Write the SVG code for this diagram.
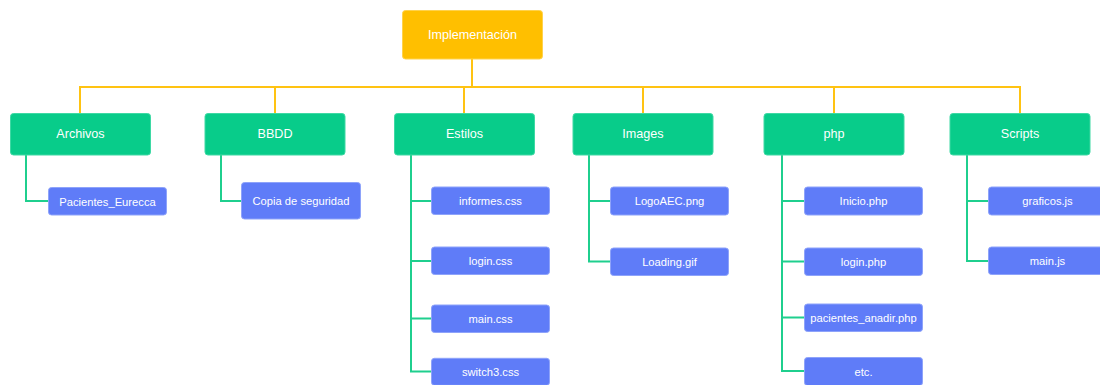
<svg xmlns="http://www.w3.org/2000/svg" width="1100" height="385" viewBox="0 0 1100 385">
  <style>
    .root { fill: #FFBF00; stroke: #FFD24D; stroke-width: 1; }
    .folder { fill: #08CC8A; stroke: #3ED9A4; stroke-width: 1; }
    .file { fill: #5F7CF8; stroke: #8EA3FA; stroke-width: 1; }
    .label { fill: #FFFFFF; font-family: "Liberation Sans", Arial, sans-serif; text-anchor: middle; dominant-baseline: central; }
    .big { font-size: 12.6px; }
    .small { font-size: 11.2px; }
    .bus { fill: none; stroke: #FFC312; stroke-width: 2; }
    .branch { fill: none; stroke: #1FCF8E; stroke-width: 2; }
  </style>

  <!-- connectors -->
  <g id="connectors">
    <!-- root to folders -->
    <path class="bus" d="M472 59 V87"/>
    <path class="bus" d="M80 113 V87 H1020 V113"/>
    <path class="bus" d="M275 87 V113 M464 87 V113 M643 87 V113 M834 87 V113"/>
    <!-- Archivos -->
    <path class="branch" d="M26 155 V201 H48"/>
    <!-- BBDD -->
    <path class="branch" d="M221 155 V201 H241"/>
    <!-- Estilos -->
    <path class="branch" d="M411 155 V371.5 H431 M411 201 H431 M411 261 H431 M411 318.5 H431"/>
    <!-- Images -->
    <path class="branch" d="M589 155 V261.5 H610 M589 201 H610"/>
    <!-- php -->
    <path class="branch" d="M782 155 V371 H804 M782 201 H804 M782 261.5 H804 M782 317.5 H804"/>
    <!-- Scripts -->
    <path class="branch" d="M967 155 V261 H988 M967 201 H988"/>
  </g>

  <!-- root -->
  <g id="implementacion">
    <rect class="root" x="402.5" y="10.5" width="140" height="48.5" rx="3"/>
    <text class="label big" x="472.5" y="35">Implementación</text>
  </g>

  <!-- folders -->
  <g id="archivos">
    <rect class="folder" x="10.5" y="113.5" width="140" height="41.5" rx="3"/>
    <text class="label big" x="80.5" y="134">Archivos</text>
  </g>
  <g id="bbdd">
    <rect class="folder" x="205" y="113.5" width="140" height="41.5" rx="3"/>
    <text class="label big" x="275" y="134">BBDD</text>
  </g>
  <g id="estilos">
    <rect class="folder" x="394.5" y="113.5" width="140" height="41.5" rx="3"/>
    <text class="label big" x="464.5" y="134">Estilos</text>
  </g>
  <g id="images">
    <rect class="folder" x="573" y="113.5" width="140" height="41.5" rx="3"/>
    <text class="label big" x="643" y="134">Images</text>
  </g>
  <g id="php">
    <rect class="folder" x="764" y="113.5" width="140" height="41.5" rx="3"/>
    <text class="label big" x="834" y="134">php</text>
  </g>
  <g id="scripts">
    <rect class="folder" x="950" y="113.5" width="140" height="41.5" rx="3"/>
    <text class="label big" x="1020" y="134">Scripts</text>
  </g>

  <!-- Archivos files -->
  <g id="pacientes-eurecca">
    <rect class="file" x="48.5" y="187.5" width="118" height="27.5" rx="3"/>
    <text class="label small" x="107.5" y="201.5">Pacientes_Eurecca</text>
  </g>

  <!-- BBDD files -->
  <g id="copia-seguridad">
    <rect class="file" x="241.5" y="182.5" width="119" height="36.5" rx="3"/>
    <text class="label small" x="301" y="201">Copia de seguridad</text>
  </g>

  <!-- Estilos files -->
  <g id="informes-css">
    <rect class="file" x="431.5" y="187" width="118" height="27.5" rx="3"/>
    <text class="label small" x="490.5" y="201">informes.css</text>
  </g>
  <g id="login-css">
    <rect class="file" x="431.5" y="247" width="118" height="27.5" rx="3"/>
    <text class="label small" x="490.5" y="261">login.css</text>
  </g>
  <g id="main-css">
    <rect class="file" x="431.5" y="305" width="118" height="27.5" rx="3"/>
    <text class="label small" x="490.5" y="319">main.css</text>
  </g>
  <g id="switch3-css">
    <rect class="file" x="431.5" y="358.3" width="118" height="27" rx="3"/>
    <text class="label small" x="490.5" y="372">switch3.css</text>
  </g>

  <!-- Images files -->
  <g id="logoaec-png">
    <rect class="file" x="610.5" y="187" width="118" height="28" rx="3"/>
    <text class="label small" x="669.5" y="201">LogoAEC.png</text>
  </g>
  <g id="loading-gif">
    <rect class="file" x="610.5" y="248" width="118" height="27.5" rx="3"/>
    <text class="label small" x="669.5" y="262">Loading.gif</text>
  </g>

  <!-- php files -->
  <g id="inicio-php">
    <rect class="file" x="804.5" y="187" width="118" height="28" rx="3"/>
    <text class="label small" x="863.5" y="201">Inicio.php</text>
  </g>
  <g id="login-php">
    <rect class="file" x="804.5" y="248" width="118" height="27.5" rx="3"/>
    <text class="label small" x="863.5" y="262">login.php</text>
  </g>
  <g id="pacientes-anadir-php">
    <rect class="file" x="804.5" y="304" width="118" height="27.5" rx="3"/>
    <text class="label small" x="863.5" y="318">pacientes_anadir.php</text>
  </g>
  <g id="etc">
    <rect class="file" x="804.5" y="357.5" width="118" height="28" rx="3"/>
    <text class="label small" x="863.5" y="371.5">etc.</text>
  </g>

  <!-- Scripts files -->
  <g id="graficos-js">
    <rect class="file" x="988.5" y="187" width="118" height="28" rx="3"/>
    <text class="label small" x="1047.5" y="201">graficos.js</text>
  </g>
  <g id="main-js">
    <rect class="file" x="988.5" y="247" width="118" height="27.5" rx="3"/>
    <text class="label small" x="1047.5" y="261">main.js</text>
  </g>
</svg>
